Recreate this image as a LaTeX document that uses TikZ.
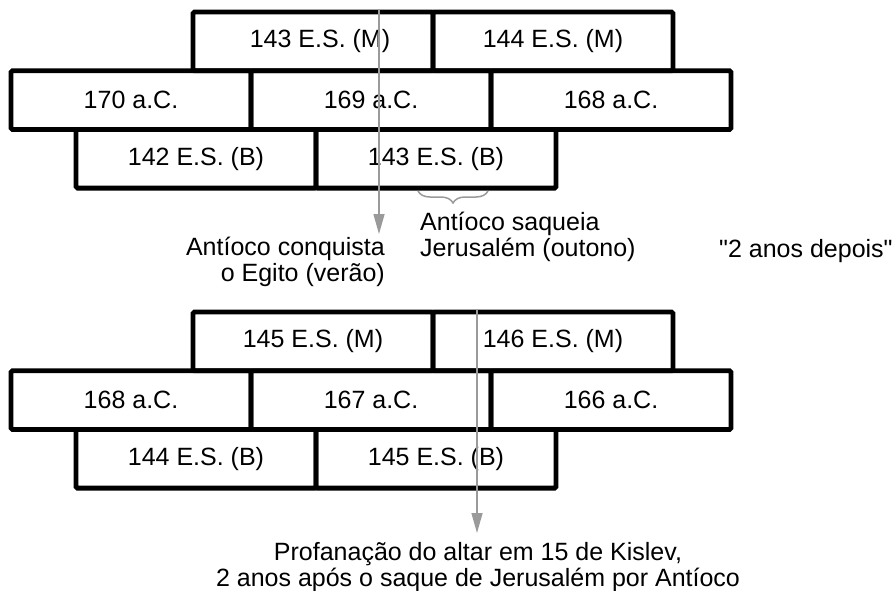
\documentclass[tikz,border=0pt]{standalone}
\usepackage{fontspec}
\setmainfont{Liberation Sans}
\usetikzlibrary{arrows.meta,positioning,decorations.pathreplacing}
\definecolor{cinza}{HTML}{9A9A9A}

\begin{document}
\begin{tikzpicture}[
  x=1pt, y=1pt,
  ano/.style   = {rectangle, draw, line width=4.8pt, rounded corners=1.5pt,
                  minimum width=240pt, minimum height=58.7pt, inner sep=0pt,
                  outer sep=0pt, anchor=north west,
                  font=\fontsize{25}{27}\selectfont},
  seta/.style  = {-{Triangle[length=20pt,width=11pt]}, line width=1.5pt, draw=cinza, fill=cinza},
  chave/.style = {decorate, decoration={brace,mirror,amplitude=12pt},
                  line width=1.5pt, draw=cinza},
  nota/.style  = {inner sep=0pt, font=\fontsize{25}{25.5}\selectfont},
]
  \useasboundingbox (0,0) rectangle (894,-590);

  % antes: 170-168 a.C.
  \node[ano] (m143) at (193,-12) {\hspace*{14pt}143 E.S. (M)};
  \node[ano, right=0pt of m143] (m144) {144 E.S. (M)};
  \node[ano] (ac170) at (11,-70.7) {170 a.C.};
  \node[ano, right=0pt of ac170] (ac169) {169 a.C.};
  \node[ano, right=0pt of ac169] (ac168) {168 a.C.};
  \node[ano] (b142) at (76,-129.4) {142 E.S. (B)};
  \node[ano, right=0pt of b142] (b143) {143 E.S. (B)};

  \coordinate (egito0) at (379,-9);
  \coordinate (egito1) at (379,-234);
  \draw[seta] (egito0) -- (egito1);
  \node[nota, anchor=base east, align=right] (egito) at (385,-281)
    {Antíoco conquista\\o Egito (verão)};

  \coordinate (saque0) at (418,-191);
  \coordinate (saque1) at (488,-191);
  \draw[chave] (saque0) -- (saque1);
  \node[nota, anchor=base west, align=left] (saque) at (420,-256)
    {Antíoco saqueia\\Jerusalém (outono)};

  \node[nota, anchor=base west] (depois) at (719,-257)
    {\textquotedbl 2 anos depois\textquotedbl};

  % depois: 168-166 a.C.
  \node[ano] (m145) at (193,-312) {145 E.S. (M)};
  \node[ano, right=0pt of m145] (m146) {146 E.S. (M)};
  \node[ano] (bc168) at (11,-370.7) {168 a.C.};
  \node[ano, right=0pt of bc168] (bc167) {167 a.C.};
  \node[ano, right=0pt of bc167] (bc166) {166 a.C.};
  \node[ano] (b144) at (76,-429.4) {144 E.S. (B)};
  \node[ano, right=0pt of b144] (b145) {145 E.S. (B)};

  \coordinate (altar0) at (477,-309);
  \coordinate (altar1) at (477,-533);
  \draw[seta] (altar0) -- (altar1);
  \node[nota, anchor=base, align=center] (altar) at (478,-586)
    {Profanação do altar em 15 de Kislev,\\2 anos após o saque de Jerusalém por Antíoco};
\end{tikzpicture}
\end{document}
